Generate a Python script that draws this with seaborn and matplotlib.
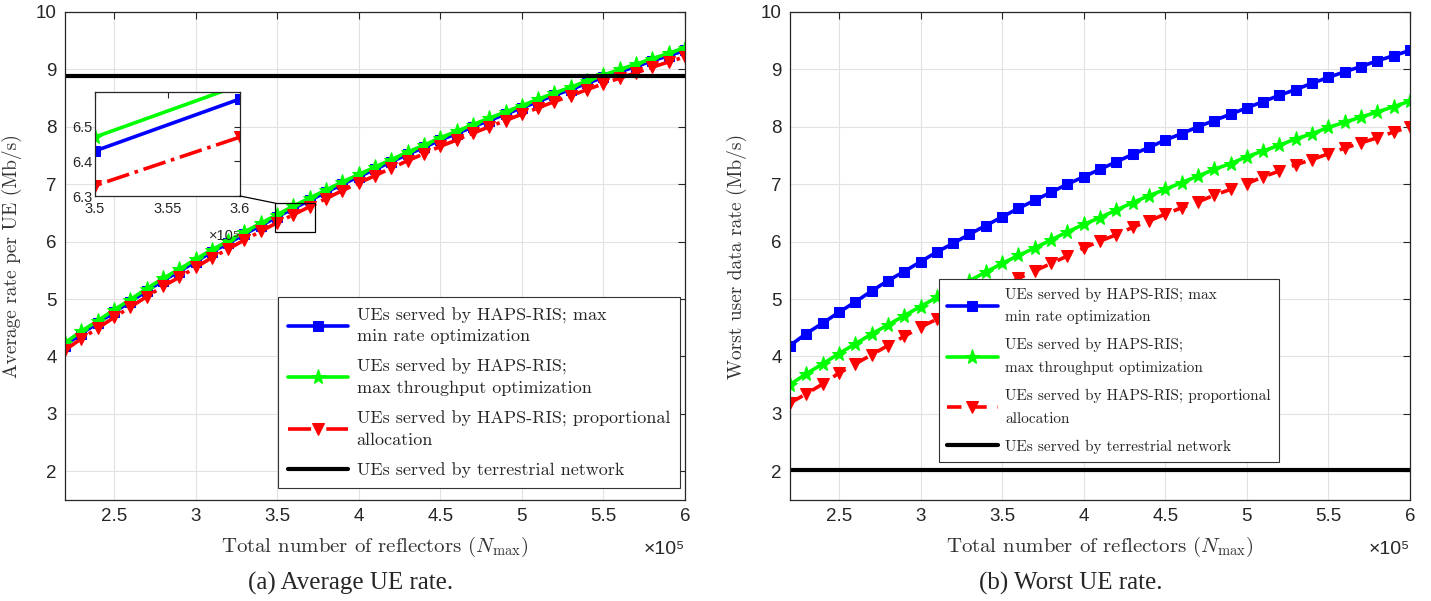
import matplotlib
matplotlib.use('Agg')
import matplotlib.pyplot as plt
from matplotlib.patches import Rectangle, ConnectionPatch
from matplotlib.ticker import FuncFormatter
import numpy as np
import pandas as pd
import seaborn as sns

# total number of reflectors, in units of 1e5
reflectors = [2.2, 2.3, 2.4, 2.5, 2.6, 2.7, 2.8, 2.9, 3.0, 3.1,
              3.2, 3.3, 3.4, 3.5, 3.6, 3.7, 3.8, 3.9, 4.0, 4.1,
              4.2, 4.3, 4.4, 4.5, 4.6, 4.7, 4.8, 4.9, 5.0, 5.1,
              5.2, 5.3, 5.4, 5.5, 5.6, 5.7, 5.8, 5.9, 6.0]

# (a) average rate per UE (Mb/s)
avg_maxmin = [4.19, 4.40, 4.58, 4.77, 4.95, 5.14, 5.32, 5.48, 5.65, 5.82,
              5.97, 6.13, 6.28, 6.43, 6.58, 6.72, 6.86, 7.00, 7.13, 7.26,
              7.39, 7.52, 7.64, 7.77, 7.88, 8.00, 8.11, 8.22, 8.33, 8.44,
              8.55, 8.65, 8.76, 8.86, 8.96, 9.05, 9.15, 9.24, 9.33]
avg_maxthr = [4.24, 4.44, 4.62, 4.81, 4.99, 5.18, 5.36, 5.52, 5.69, 5.86,
              6.01, 6.17, 6.32, 6.47, 6.62, 6.76, 6.90, 7.04, 7.17, 7.30,
              7.43, 7.56, 7.68, 7.81, 7.92, 8.04, 8.15, 8.26, 8.37, 8.48,
              8.59, 8.69, 8.80, 8.90, 9.00, 9.09, 9.19, 9.28, 9.38]
avg_prop = [4.11, 4.31, 4.49, 4.68, 4.86, 5.04, 5.22, 5.38, 5.55, 5.72,
            5.87, 6.03, 6.18, 6.33, 6.47, 6.61, 6.75, 6.89, 7.02, 7.15,
            7.28, 7.41, 7.53, 7.66, 7.77, 7.89, 8.00, 8.11, 8.22, 8.33,
            8.44, 8.54, 8.65, 8.75, 8.85, 8.94, 9.04, 9.13, 9.22]
avg_terrestrial = 8.88

# (b) worst user data rate (Mb/s)
worst_maxmin = [4.19, 4.40, 4.58, 4.77, 4.95, 5.14, 5.32, 5.48, 5.65, 5.82,
                5.97, 6.13, 6.28, 6.43, 6.58, 6.72, 6.86, 7.00, 7.13, 7.26,
                7.39, 7.52, 7.64, 7.77, 7.88, 8.00, 8.11, 8.22, 8.33, 8.44,
                8.55, 8.65, 8.76, 8.86, 8.96, 9.05, 9.15, 9.24, 9.33]
worst_maxthr = [3.51, 3.70, 3.87, 4.05, 4.22, 4.39, 4.55, 4.71, 4.87, 5.03,
                5.17, 5.32, 5.47, 5.62, 5.76, 5.89, 6.03, 6.17, 6.30, 6.42,
                6.55, 6.68, 6.80, 6.91, 7.03, 7.14, 7.26, 7.36, 7.48, 7.58,
                7.68, 7.79, 7.88, 7.99, 8.08, 8.17, 8.26, 8.35, 8.45]
worst_prop = [3.19, 3.35, 3.52, 3.71, 3.87, 4.03, 4.19, 4.35, 4.51, 4.65,
              4.80, 4.94, 5.08, 5.22, 5.36, 5.49, 5.62, 5.75, 5.89, 6.01,
              6.12, 6.25, 6.36, 6.48, 6.59, 6.69, 6.81, 6.91, 7.01, 7.13,
              7.23, 7.34, 7.43, 7.53, 7.63, 7.72, 7.81, 7.91, 8.00]
worst_terrestrial = 2.02

labels = ['UEs served by HAPS-RIS; max\nmin rate optimization',
          'UEs served by HAPS-RIS;\nmax throughput optimization',
          'UEs served by HAPS-RIS; proportional\nallocation',
          'UEs served by terrestrial network']

sns.set_theme(style='whitegrid')
plt.rcParams['font.family'] = ['Liberation Sans', 'DejaVu Sans']
plt.rcParams['mathtext.fontset'] = 'cm'
plt.rcParams['axes.unicode_minus'] = False

x = np.array(reflectors) * 1e5
df_a = pd.DataFrame({'n': x, 'maxmin': avg_maxmin, 'maxthr': avg_maxthr, 'prop': avg_prop})
df_b = pd.DataFrame({'n': x, 'maxmin': worst_maxmin, 'maxthr': worst_maxthr, 'prop': worst_prop})

DARK = '#262626'


def draw_series(ax, df, red_style, with_labels=True):
    lab = labels if with_labels else [None] * 4
    sns.lineplot(data=df, x='n', y='maxmin', ax=ax, color='#0000ff', lw=2.6,
                 marker='s', markersize=7, markeredgecolor='#0000ff', label=lab[0])
    sns.lineplot(data=df, x='n', y='maxthr', ax=ax, color='#00ff00', lw=2.6,
                 marker='*', markersize=11, markeredgecolor='#00ff00', label=lab[1])
    sns.lineplot(data=df, x='n', y='prop', ax=ax, color='#ff0000', lw=2.6,
                 marker='v', markersize=8, markeredgecolor='#ff0000', label=lab[2])
    red = ax.lines[-1]
    if red_style == 'dashdot':
        red.set_linestyle('-.')
    else:
        red.set_dashes([4, 3])


def style_axes(ax, ylabel):
    ax.set_xlim(2.2e5, 6e5)
    ax.set_ylim(1.5, 10)
    ax.set_xticks([2.5e5, 3e5, 3.5e5, 4e5, 4.5e5, 5e5, 5.5e5, 6e5])
    ax.set_yticks(range(2, 11))
    ax.xaxis.set_major_formatter(FuncFormatter(lambda v, p: f'{v / 1e5:g}'))
    ax.tick_params(direction='in', top=True, right=True, length=5, width=0.8,
                   color=DARK, labelsize=13.5, labelcolor=DARK, pad=6)
    ax.grid(True, color='#e2e2e2', lw=0.8)
    for s in ax.spines.values():
        s.set_color(DARK)
        s.set_linewidth(0.9)
    ax.set_xlabel(r'Total number of reflectors ($N_{\max}$)', family='cmr10',
                  fontsize=15, color='#333333', labelpad=7)
    ax.set_ylabel(ylabel, family='cmr10', fontsize=14, color='#333333', labelpad=10)
    ax.text(1.0, -0.085, '×10⁵', transform=ax.transAxes, ha='right', va='top',
            fontsize=14, color=DARK)


def make_legend(ax, size, linespacing, spacing, anchor, loc):
    leg = ax.legend(loc=loc, bbox_to_anchor=anchor, borderaxespad=0,
                    prop={'family': 'cmr10', 'size': size}, frameon=True, fancybox=False,
                    edgecolor='#333333', framealpha=1, handlelength=3.3, borderpad=0.55,
                    labelspacing=spacing, handletextpad=0.5)
    leg.get_frame().set_linewidth(0.8)
    for t in leg.get_texts():
        t.set_linespacing(linespacing)


fig = plt.figure(figsize=(14.31, 6.01), dpi=100)
ax1 = fig.add_axes([65 / 1431, 101 / 601, 620 / 1431, 488 / 601])
ax2 = fig.add_axes([790 / 1431, 101 / 601, 620 / 1431, 488 / 601])

# (a)
draw_series(ax1, df_a, 'dashdot')
ax1.axhline(avg_terrestrial, color='black', lw=3, label=labels[3])
style_axes(ax1, 'Average rate per UE (Mb/s)')
make_legend(ax1, 13, 1.45, 0.8, (0.992, 0.025), 'lower right')

# zoom box and inset
ax1.add_patch(Rectangle((3.49e5, 6.17), 0.24e5, 0.5, fill=False, ec='black',
                        lw=0.9, zorder=6))
axin = fig.add_axes([95 / 1431, 1 - 196 / 601, 145 / 1431, 104 / 601])
axin.set_facecolor('white')
draw_series(axin, df_a, 'dashdot', with_labels=False)
axin.set_xlim(3.5e5, 3.6e5)
axin.set_ylim(6.3, 6.6)
axin.set_xticks([3.5e5, 3.55e5, 3.6e5])
axin.set_yticks([6.3, 6.4, 6.5])
axin.xaxis.set_major_formatter(FuncFormatter(lambda v, p: f'{v / 1e5:g}'))
axin.yaxis.set_major_formatter(FuncFormatter(lambda v, p: f'{v:.1f}'))
axin.grid(False)
axin.set_xlabel('')
axin.set_ylabel('')
axin.tick_params(direction='in', top=True, right=True, length=4, width=0.8,
                 color=DARK, labelsize=10.5, labelcolor=DARK)
axin.tick_params(axis='x', pad=4)
axin.tick_params(axis='y', pad=2)
for s in axin.spines.values():
    s.set_color(DARK)
    s.set_linewidth(0.9)
axin.text(1.0, -0.32, '×10⁵', transform=axin.transAxes, ha='right', va='top',
          fontsize=10.5, color=DARK)
con = ConnectionPatch(xyA=(1, 0), coordsA=axin.transAxes, xyB=(3.49e5, 6.67),
                      coordsB=ax1.transData, color='black', lw=0.9)
fig.add_artist(con)

# (b)
draw_series(ax2, df_b, 'dashed')
ax2.axhline(worst_terrestrial, color='black', lw=3, label=labels[3])
style_axes(ax2, 'Worst user data rate (Mb/s)')
make_legend(ax2, 11, 1.8, 0.9, (0.24, 0.078), 'lower left')

fig.text(351 / 1431, 1 - 583 / 601, '(a) Average UE rate.', ha='center', va='center',
         family='Liberation Serif', fontsize=18)
fig.text(1071 / 1431, 1 - 583 / 601, '(b) Worst UE rate.', ha='center', va='center',
         family='Liberation Serif', fontsize=18)

fig.savefig('out.png', dpi=100)
